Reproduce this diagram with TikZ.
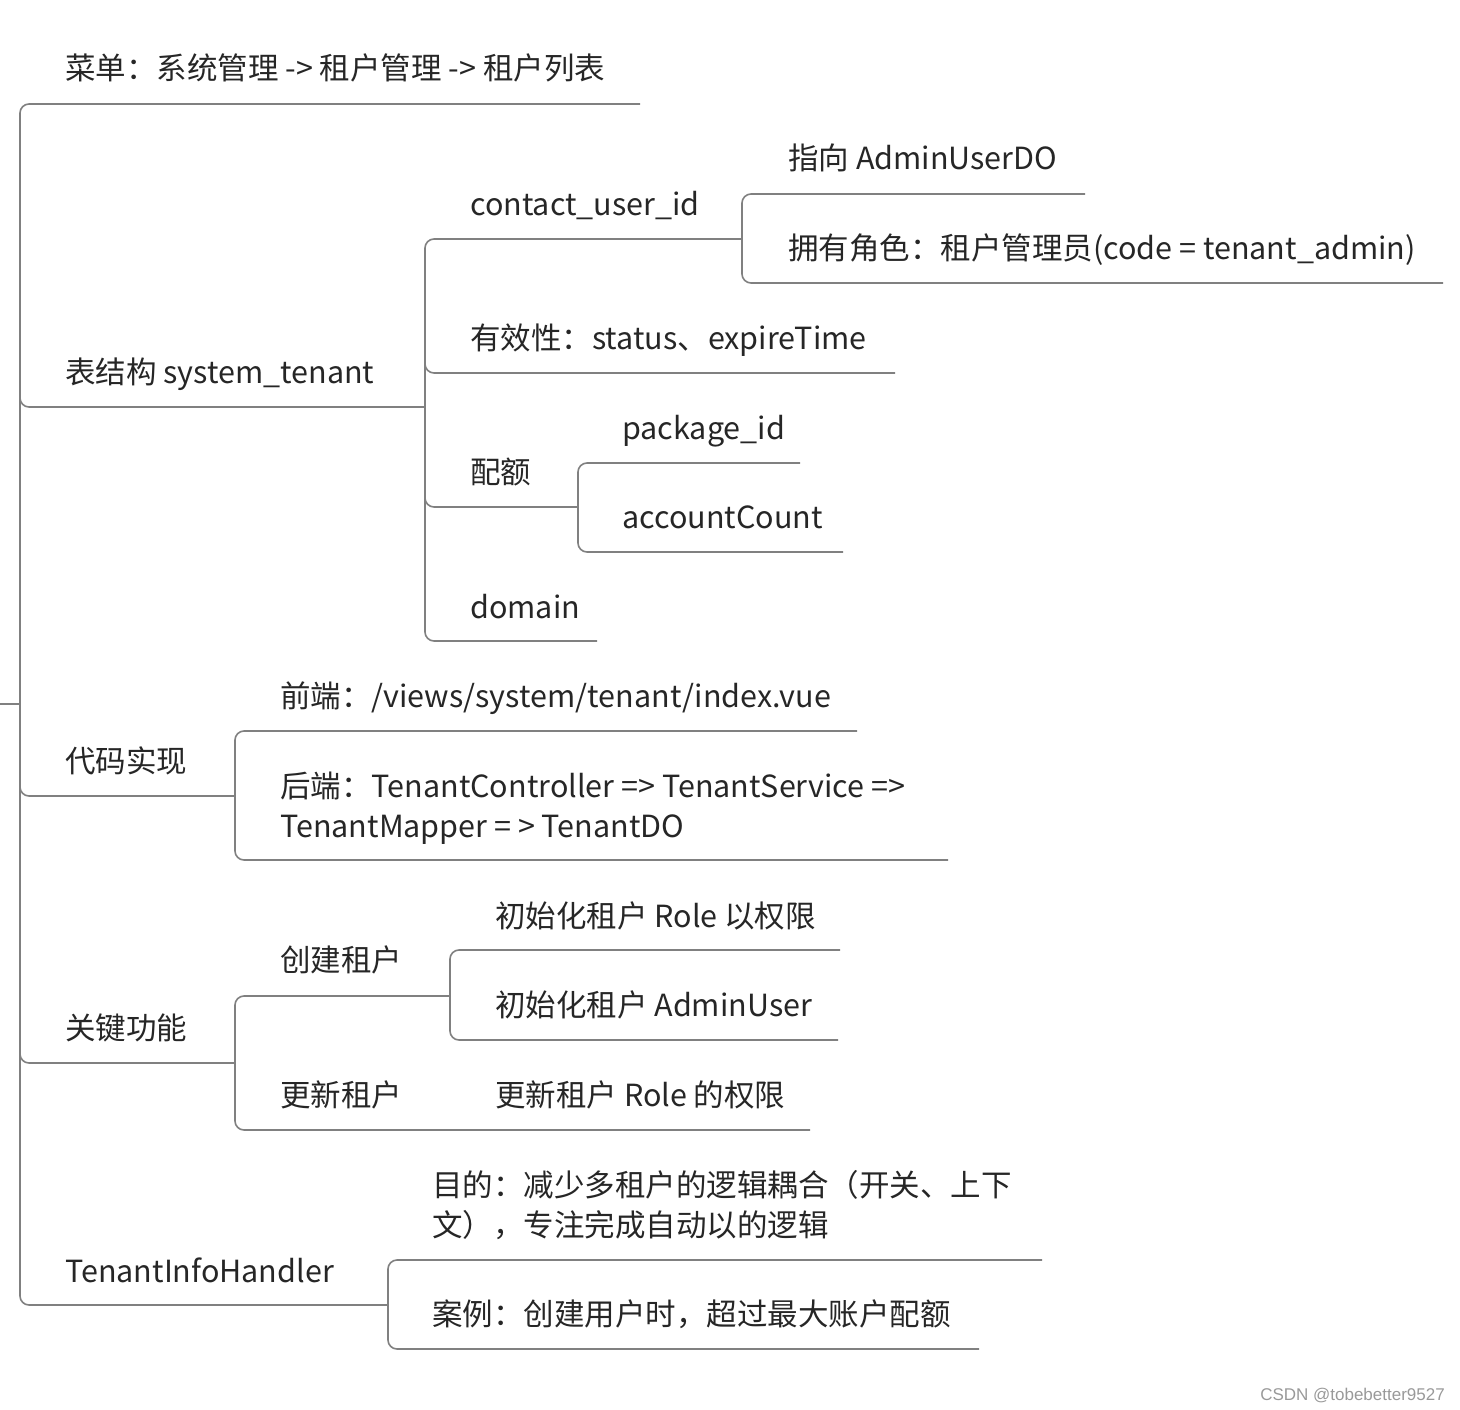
\documentclass[tikz,border=0pt]{standalone}
\usepackage{fontspec}
\setmainfont{Noto Sans CJK SC}
\newfontfamily\wmfont{Liberation Sans}
\begin{document}
\begin{tikzpicture}[x=1pt,y=-1pt,
  ln/.style={draw=black!50,line width=1.6pt,rounded corners=9pt},
  lbl/.style={anchor=base west,inner sep=0pt,font=\fontsize{30.5}{40}\selectfont,text=black!85,align=left}]
\useasboundingbox (0,0) rectangle (1460,1410);
% root
\draw[ln] (640,104) -- (20,104) -- (20,1305) -- (388,1305);
\draw[black!50,line width=1.6pt] (0,704) -- (20,704);
\draw[ln] (20,397) -- (20,407) -- (425,407);
\draw[ln] (20,786) -- (20,796) -- (235,796);
\draw[ln] (20,1053) -- (20,1063) -- (235,1063);
% table fork
\draw[ln] (742,239) -- (425,239) -- (425,641) -- (597,641);
\draw[ln] (425,363) -- (425,373) -- (895,373);
\draw[ln] (425,497) -- (425,507) -- (578,507);
\draw[ln] (1085,194) -- (742,194) -- (742,283) -- (1443,283);
\draw[ln] (800,463) -- (578,463) -- (578,552) -- (843,552);
% code
\draw[ln] (857,731) -- (235,731) -- (235,860) -- (948,860);
% key
\draw[ln] (450,996) -- (235,996) -- (235,1130) -- (810,1130);
\draw[ln] (840,950) -- (450,950) -- (450,1040) -- (838,1040);
% handler
\draw[ln] (1042,1260) -- (388,1260) -- (388,1349) -- (979,1349);
% texts
\node[lbl] (menu) at (65,80) {菜单：系统管理 -> 租户管理 -> 租户列表};
\node[lbl] (tbl) at (65,383) {表结构 system\_tenant};
\node[lbl] (cu) at (470,215) {contact\_user\_id};
\node[lbl] (ad) at (788,170) {指向 AdminUserDO};
\node[lbl] (role) at (788,259) {拥有角色：租户管理员(code = tenant\_admin)};
\node[lbl] (valid) at (470,349) {有效性：status、expireTime};
\node[lbl] (quota) at (470,483) {配额};
\node[lbl] (pkg) at (622,439) {package\_id};
\node[lbl] (acc) at (622,528) {accountCount};
\node[lbl] (dom) at (470,618) {domain};
\node[lbl] (code) at (65,772) {代码实现};
\node[lbl] (fe) at (280,707) {前端：/views/system/tenant/index.vue};
\node[lbl] (be) at (280,837) {后端：TenantController => TenantService =>\\TenantMapper = > TenantDO};
\node[lbl] (key) at (65,1039) {关键功能};
\node[lbl] (cr) at (280,971) {创建租户};
\node[lbl] (i1) at (495,927) {初始化租户 Role 以权限};
\node[lbl] (i2) at (495,1016) {初始化租户 AdminUser};
\node[lbl] (up) at (280,1106) {更新租户};
\node[lbl] (up2) at (495,1106) {更新租户 Role 的权限};
\node[lbl] (th) at (65,1282) {TenantInfoHandler};
\node[lbl] (goal) at (432,1236) {目的：减少多租户的逻辑耦合（开关、上下\\文），专注完成自动以的逻辑};
\node[lbl] (ex) at (432,1325) {案例：创建用户时，超过最大账户配额};
\node[anchor=base east,inner sep=0pt,font=\wmfont\fontsize{17}{20}\selectfont,text=black!40] (wm) at (1445,1400) {CSDN @tobebetter9527};
\end{tikzpicture}
\end{document}
